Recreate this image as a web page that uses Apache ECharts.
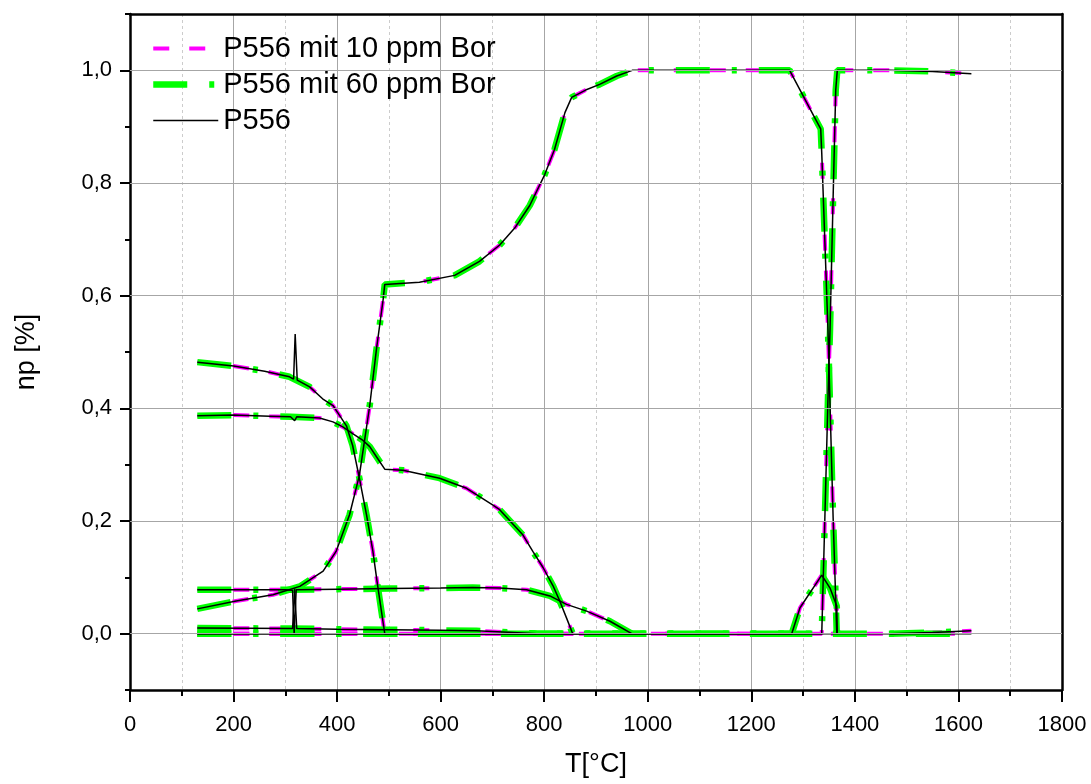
<!DOCTYPE html>
<html><head><meta charset="utf-8">
<script src="https://cdn.jsdelivr.net/npm/echarts@6/dist/echarts.min.js"></script>
<style>html,body{margin:0;padding:0;background:#fff}#c{width:1091px;height:784px}</style>
</head><body><div id="c"></div>
<script>
// ---- legend / series names ----
const seriesNames = ['P556 mit 10 ppm Bor', 'P556 mit 60 ppm Bor', 'P556'];
// ---- axis ticks ----
const yMajor = [0, 0.2, 0.4, 0.6, 0.8, 1.0];

// ---- phase curves (T in °C, np) ----
const T_A = [130,200,260,308,347,372,392,405,418,430,443,457,469,478,492,600,800,1000,1200,1400,1625];
const V_A = [0.482,0.475,0.466,0.456,0.438,0.417,0.405,0.387,0.369,0.334,0.276,0.210,0.147,0.087,0,0,0,0,0,0,0];
const T_A_P556 = [130,200,260,308,316,319,323,347,372,392,405,418,430,443,457,469,478,492,600,800,1000,1200,1400,1625];
const V_A_P556 = [0.482,0.475,0.466,0.456,0.452,0.532,0.450,0.438,0.417,0.405,0.387,0.369,0.334,0.276,0.210,0.147,0.087,0,0,0,0,0,0,0];

const T_B = [130,200,270,310,366,392,411,430,450,463,476,492,527,598,650,701,714,759,778,798,817,830,843,855];
const V_B = [0.387,0.388,0.386,0.385,0.383,0.376,0.367,0.355,0.343,0.332,0.314,0.292,0.290,0.276,0.258,0.228,0.220,0.175,0.146,0.117,0.085,0.058,0.028,0];
const T_B_P556 = [130,200,270,310,318,322,366,392,411,430,450,463,476,492,527,598,650,701,714,759,778,798,817,830,843,855];
const V_B_P556 = [0.387,0.388,0.386,0.385,0.378,0.385,0.383,0.376,0.367,0.355,0.343,0.332,0.314,0.292,0.290,0.276,0.258,0.228,0.220,0.175,0.146,0.117,0.085,0.058,0.028,0];

const T_C = [130,205,276,328,373,398,424,443,463,476,489,492,559,627,675,714,743,772,801,820,840,853,880,907,940,970,1100,1200,1274,1320,1334,1336,1348,1358,1365];
const V_C = [0.044,0.058,0.069,0.084,0.111,0.146,0.211,0.281,0.405,0.505,0.594,0.620,0.624,0.636,0.661,0.690,0.720,0.760,0.815,0.860,0.925,0.952,0.965,0.975,0.99,1.0,1.0,1.0,1.0,0.920,0.896,0.853,0.540,0.205,0];

const T_D = [130,600,1000,1278,1294,1336,1352,1365,1366];
const V_D = [0,0,0,0,0.046,0.104,0.081,0.049,0];

const T_E = [130,600,1000,1336,1342,1348,1352,1358,1363,1366,1468,1550,1625];
const V_E = [0,0,0,0,0.205,0.417,0.540,0.776,0.965,1.0,1.0,0.998,0.994];

const T_F = [130,200,300,400,500,600,662,714,766,811,843,882,927,969];
const V_F = [0.078,0.078,0.078,0.079,0.080,0.081,0.082,0.081,0.078,0.067,0.052,0.040,0.022,0];
const T_F_P556 = [130,200,300,314,317,321,400,500,600,662,714,766,811,843,882,927,969];
const V_F_P556 = [0.078,0.078,0.078,0.077,0,0.078,0.079,0.080,0.081,0.082,0.081,0.078,0.067,0.052,0.040,0.022,0];

const T_G = [130,314,400,500,600,669,720,785];
const V_G = [0.010,0.009,0.008,0.007,0.006,0.005,0.003,0];
const T_G_P556 = [130,314,318,322,400,500,600,669,720,785];
const V_G_P556 = [0.010,0.009,0.080,0.009,0.008,0.007,0.006,0.005,0.003,0];

const T_I = [1468,1550,1625];
const V_I = [0,0.002,0.005];

// ---- build ----
const pairs = (t, v) => t.map((x, i) => [x, v[i]]);
const boronPhases = [[T_A,V_A],[T_B,V_B],[T_C,V_C],[T_D,V_D],[T_E,V_E],[T_F,V_F],[T_G,V_G],[T_I,V_I]];
const p556Phases = [[T_A_P556,V_A_P556],[T_B_P556,V_B_P556],[T_C,V_C],[T_D,V_D],[T_E,V_E],[T_F_P556,V_F_P556],[T_G_P556,V_G_P556],[T_I,V_I]];

const styles = [
  {color:'#ff00ff', width:4, type:[16,20]},
  {color:'#00ff00', width:6.5, type:[34,22,5,22]},
  {color:'#000000', width:1.5, type:'solid'}
];
const phaseSets = [boronPhases, boronPhases, p556Phases];

const FONT = 'Liberation Sans, Arial, sans-serif';
const series = [{
  type:'line', name:'grid', data:[], silent:true, z:1,
  markLine:{silent:true, symbol:['none','none'], label:{show:false}, animation:false,
    lineStyle:{color:'#a6a6a6', width:1, type:'solid'},
    data: yMajor.map(v => ({yAxis:v}))}
}];
seriesNames.forEach((name, k) => {
  phaseSets[k].forEach(([t, v]) => {
    series.push({
      type:'line', name, data:pairs(t, v), xAxisIndex:0, yAxisIndex:0,
      symbol:'none', showSymbol:false, silent:true, animation:false, z:3,
      lineStyle:{color:styles[k].color, width:styles[k].width, type:styles[k].type, cap:'butt'},
      itemStyle:{color:styles[k].color}
    });
  });
});

const chart = echarts.init(document.getElementById('c'), null, {renderer:'canvas'});
chart.setOption({
  animation:false,
  backgroundColor:'#ffffff',
  textStyle:{fontFamily:FONT},
  grid:{left:130, right:29, top:14, bottom:94, containLabel:false},
  legend:{
    data:seriesNames, orient:'vertical', left:145, top:29, itemWidth:65, itemHeight:10, itemGap:7,
    itemStyle:{opacity:0},
    lineStyle:{width:'inherit', type:'inherit', color:'inherit'},
    textStyle:{fontSize:29, color:'#000', fontFamily:FONT}, selectedMode:false
  },
  xAxis:[{
    type:'value', min:0, max:1800, interval:200, position:'bottom',
    name:'T[°C]', nameLocation:'middle', nameGap:61,
    nameTextStyle:{fontSize:27, color:'#000', fontFamily:FONT},
    axisLine:{show:true, onZero:false, lineStyle:{color:'#000', width:2.5}},
    axisTick:{show:true, length:12, lineStyle:{color:'#000', width:2}},
    minorTick:{show:true, splitNumber:2, length:6, lineStyle:{color:'#000', width:2}},
    axisLabel:{fontSize:22, color:'#000', margin:24, fontFamily:FONT, formatter:v => String(v)},
    splitLine:{show:true, lineStyle:{color:'#a6a6a6', width:1}},
    minorSplitLine:{show:true, lineStyle:{color:'#cccccc', width:1, type:[3,3]}}
  },{
    type:'value', min:0, max:1800, position:'top',
    axisLine:{show:true, onZero:false, lineStyle:{color:'#000', width:2.5}},
    axisTick:{show:false}, axisLabel:{show:false}, splitLine:{show:false}
  }],
  yAxis:[{
    type:'value', min:-0.1, max:1.1, position:'left',
    name:'np [%]', nameLocation:'middle', nameGap:90,
    nameTextStyle:{fontSize:27, color:'#000', fontFamily:FONT},
    axisLine:{show:true, onZero:false, lineStyle:{color:'#000', width:2.5}},
    axisTick:{show:true, length:10, customValues:yMajor, lineStyle:{color:'#000', width:2}},
    axisLabel:{customValues:yMajor, fontSize:22, color:'#000', margin:18, fontFamily:FONT,
      formatter:v => v.toFixed(1).replace('.', ',')},
    splitLine:{show:false}
  },{
    type:'value', min:-0.1, max:1.1, interval:0.1, position:'left',
    axisLine:{show:false}, axisTick:{show:true, length:5, lineStyle:{color:'#000', width:2}},
    axisLabel:{show:false}, splitLine:{show:false}
  },{
    type:'value', min:-0.1, max:1.1, position:'right',
    axisLine:{show:true, onZero:false, lineStyle:{color:'#000', width:2.5}},
    axisTick:{show:false}, axisLabel:{show:false}, splitLine:{show:false}
  }],
  series
});
</script></body></html>
